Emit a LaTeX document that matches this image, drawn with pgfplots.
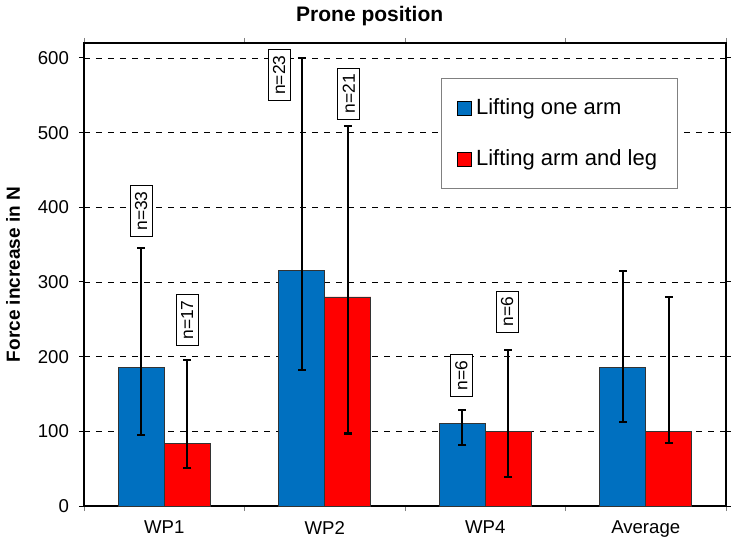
\documentclass[border=0pt]{standalone}
\usepackage{fontspec}
\setmainfont{Liberation Sans}
\usepackage{pgfplots}
\usepackage{pgfplotstable}
\pgfplotsset{compat=1.18}
\definecolor{barblue}{RGB}{0,112,192}
\definecolor{barred}{RGB}{255,0,0}
\pgfplotstableread{
x y ep em
0 185 161 90
1 315 285 133
2 111 18 29
3 185 130 73
}\blue
\pgfplotstableread{
x y ep em
0 84 111 33
1 280 229 183
2 100 109 61
3 100 180 16
}\red
\begin{document}
\begin{tikzpicture}
\begin{axis}[
  scale only axis,
  width=321pt, height=231.5pt,
  ybar, bar width=23pt,
  xmin=-0.5, xmax=3.5,
  ymin=0, ymax=620,
  ytick={0,100,...,600},
  xtick={-0.5,0.5,1.5,2.5,3.5},
  xticklabels={},
  extra x ticks={0,1,2,3},
  extra x tick labels={WP1,WP2,WP4,Average},
  extra x tick style={major tick length=0pt, grid=none},
  xticklabel style={yshift=-4pt},
  yticklabel style={xshift=-1.5pt},
  tick align=outside,
  major tick length=2.5pt,
  x tick style={gray, line width=0.4pt},
  y tick style={black, line width=0.5pt},
  ymajorgrids,
  major grid style={dashed, black, line width=0.4pt},
  axis line style={black, line width=0.7pt},
  tick label style={font=\fontsize{9.3}{11}\selectfont},
  /pgf/number format/assume math mode=true,
  ylabel={\textbf{Force increase in N}},
  ylabel style={font=\fontsize{9.5}{11}\selectfont, yshift=2pt},
  title={\textbf{Prone position}},
  title style={font=\fontsize{10.5}{12}\selectfont, at={(0.445,1)}, anchor=south, yshift=-1pt},
  clip=false,
  legend style={at={(0.556,0.924)}, anchor=north west, draw=gray, line width=0.5pt,
    inner xsep=8pt, inner ysep=8pt, row sep=12pt,
    font=\fontsize{11}{13}\selectfont},
  legend cell align=left,
  legend image code/.code={\draw[#1, draw=black, line width=0.3pt] (0pt,-3.5pt) rectangle (7pt,3.5pt);},
]
\addplot[fill=barblue, draw=black!80, line width=0.4pt, bar shift=-11.5pt,
  error bars/.cd, y dir=both, y explicit,
  error bar style={line width=1.1pt, black},
  error mark options={rotate=90, mark size=2pt, line width=1.1pt, black}]
  table[x=x, y=y, y error plus=ep, y error minus=em] {\blue};
\addplot[fill=barred, draw=black!80, line width=0.4pt, bar shift=11.5pt,
  error bars/.cd, y dir=both, y explicit,
  error bar style={line width=1.1pt, black},
  error mark options={rotate=90, mark size=2pt, line width=1.1pt, black}]
  table[x=x, y=y, y error plus=ep, y error minus=em] {\red};
\legend{Lifting one arm, Lifting arm and leg}
\tikzset{nlab/.style={draw=black, line width=0.5pt, fill=white, rotate=90, inner xsep=3pt, inner ysep=2.5pt, font=\fontsize{8.7}{10}\selectfont}}
\node[nlab] at (axis cs:-0.1433,395) {n=33};
\node[nlab] at (axis cs:0.1433,249) {n=17};
\node[nlab] at (axis cs:0.7165,577) {n=23};
\node[nlab] at (axis cs:1.1495,552) {n=21};
\node[nlab] at (axis cs:1.8505,175) {n=6};
\node[nlab] at (axis cs:2.137,260) {n=6};
\coordinate (bl) at (rel axis cs:0,0);
\coordinate (tr) at (rel axis cs:1,1);
\end{axis}
\pgfresetboundingbox
\path ([shift={(-42pt,-19pt)}]bl) rectangle ([shift={(2.5pt,21.5pt)}]tr);
\end{tikzpicture}
\end{document}
